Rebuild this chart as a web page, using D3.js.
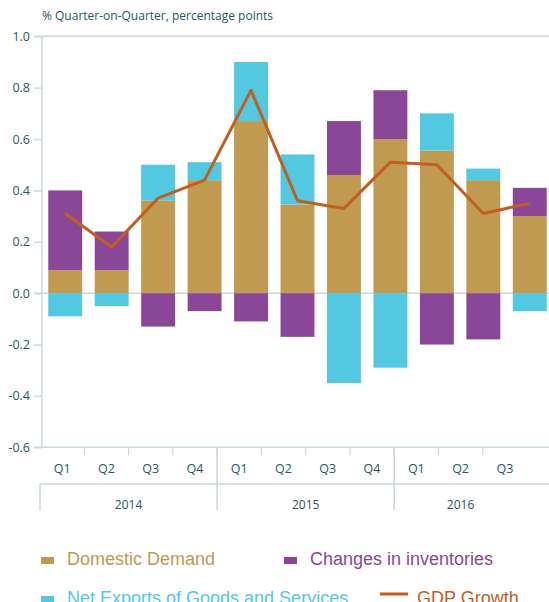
<!DOCTYPE html>
<html lang="en">
<head>
  <meta charset="UTF-8">
  <title>GDP contributions</title>
  <script src="https://cdn.jsdelivr.net/npm/d3@7"></script>
</head>
<body>
<style>
  * {
    padding: 0;
    margin: 0;
  }

  body {
    background: #fff;
  }

  #app {
    width: 549px;
    height: 602px;
    overflow: hidden;
  }

  #app svg {
    display: block;
  }
</style>

<div id="app"></div>

<script>
  // values
  var quarters = ['Q1', 'Q2', 'Q3', 'Q4', 'Q1', 'Q2', 'Q3', 'Q4', 'Q1', 'Q2', 'Q3'];
  var years = ['2014', '2015', '2016'];
  var yearQuarters = [4, 4, 3];
  var domesticDemand = [0.09, 0.09, 0.36, 0.44, 0.67, 0.345, 0.46, 0.60, 0.555, 0.44, 0.30];
  var inventories = [0.31, 0.15, -0.13, -0.07, -0.11, -0.17, 0.21, 0.19, -0.20, -0.18, 0.11];
  var netExports = [-0.09, -0.05, 0.14, 0.07, 0.23, 0.195, -0.35, -0.29, 0.145, 0.045, -0.07];
  var gdpGrowth = [0.31, 0.18, 0.37, 0.44, 0.79, 0.36, 0.33, 0.51, 0.50, 0.31, 0.35];
  var yTicks = [1.0, 0.8, 0.6, 0.4, 0.2, 0.0, -0.2, -0.4, -0.6];

  var seriesNames = ['Domestic Demand', 'Changes in inventories', 'Net Exports of Goods and Services'];
  var seriesColors = ['#c19a52', '#8a4797', '#53c8e1'];
  var lineColor = '#c05f1f';
  var textColor = '#275863';
  var axisColor = '#cad9de';

  function drawChart() {
    var width = 549, height = 602;
    var svg = d3.select('#app').append('svg')
      .attr('width', width).attr('height', height)
      .attr('viewBox', '0,0 ' + width + ',' + height);

    var idx = d3.range(quarters.length);

    var y = d3.scaleLinear().domain([-0.6, 1.0]).range([447.3, 36.3]);
    var x = d3.scaleBand().domain(idx).range([42, 553])
      .paddingInner(0.27).paddingOuter(0.135);
    // the category axis below has its own slightly narrower spacing
    var xAxisScale = d3.scaleBand().domain(idx).range([40, 527]);

    // title
    svg.append('text')
      .attr('x', 42).attr('y', 20)
      .attr('fill', textColor)
      .attr('font-family', '"Open Sans", sans-serif')
      .attr('font-size', '12px')
      .text('% Quarter-on-Quarter, percentage points');

    // y axis
    var yAxis = d3.axisLeft(y).tickValues(yTicks).tickSize(8).tickPadding(4)
      .tickFormat(d3.format('.1f'));
    var gy = svg.append('g').attr('transform', 'translate(42,0)').call(yAxis);
    gy.select('.domain').remove();
    gy.selectAll('.tick line').attr('stroke', axisColor).attr('stroke-width', 1.5);
    gy.selectAll('.tick text')
      .attr('fill', textColor)
      .attr('font-family', '"Open Sans", sans-serif')
      .attr('font-size', '12.5px')
      .text(function (d) { return d3.format('.1f')(d).replace('−', '-'); });

    svg.append('line')
      .attr('x1', 42).attr('x2', 42).attr('y1', y(1.0)).attr('y2', y(-0.6))
      .attr('stroke', axisColor).attr('stroke-width', 1.5);

    // full width lines at top, zero and bottom
    [1.0, 0.0, -0.6].forEach(function (v) {
      svg.append('line')
        .attr('x1', 34).attr('x2', width).attr('y1', y(v)).attr('y2', y(v))
        .attr('stroke', axisColor).attr('stroke-width', 1.5);
    });

    // stacked bars: positives upward, negatives downward
    var seriesValues = [domesticDemand, inventories, netExports];
    var bars = svg.append('g');
    idx.forEach(function (i) {
      var pos = 0, neg = 0;
      seriesValues.forEach(function (vals, s) {
        var v = vals[i], y0, y1;
        if (v >= 0) { y0 = pos; y1 = pos + v; pos = y1; }
        else { y0 = neg; y1 = neg + v; neg = y1; }
        bars.append('rect')
          .attr('x', x(i))
          .attr('width', x.bandwidth())
          .attr('y', y(Math.max(y0, y1)))
          .attr('height', Math.abs(y(y0) - y(y1)))
          .attr('fill', seriesColors[s]);
      });
    });

    // GDP line
    var lineGen = d3.line()
      .x(function (d, i) { return x(i) + x.bandwidth() / 2; })
      .y(function (d) { return y(d); });
    svg.append('path')
      .attr('d', lineGen(gdpGrowth))
      .attr('fill', 'none')
      .attr('stroke', lineColor)
      .attr('stroke-width', 3)
      .attr('stroke-linejoin', 'round');

    // category axis
    var axisTop = y(-0.6);
    var catG = svg.append('g');
    idx.slice(1).forEach(function (i) {
      catG.append('line')
        .attr('x1', xAxisScale(i)).attr('x2', xAxisScale(i))
        .attr('y1', axisTop).attr('y2', axisTop + 8)
        .attr('stroke', axisColor).attr('stroke-width', 1.2);
    });
    idx.forEach(function (i) {
      catG.append('text')
        .attr('x', xAxisScale(i) + xAxisScale.bandwidth() / 2)
        .attr('y', 473)
        .attr('text-anchor', 'middle')
        .attr('fill', textColor)
        .attr('font-family', '"Open Sans", sans-serif')
        .attr('font-size', '12.5px')
        .text(quarters[i]);
    });
    catG.append('line')
      .attr('x1', 40).attr('x2', width).attr('y1', 484).attr('y2', 484)
      .attr('stroke', axisColor).attr('stroke-width', 1.5);

    var start = 0;
    years.forEach(function (yr, k) {
      var x0 = xAxisScale(start);
      var last = start + yearQuarters[k] - 1;
      var x1 = xAxisScale(last) + xAxisScale.step();
      catG.append('line')
        .attr('x1', x0).attr('x2', x0)
        .attr('y1', k === 0 ? 484 : axisTop).attr('y2', 510)
        .attr('stroke', axisColor).attr('stroke-width', 1.5);
      catG.append('text')
        .attr('x', (x0 + x1) / 2)
        .attr('y', 509)
        .attr('text-anchor', 'middle')
        .attr('fill', textColor)
        .attr('font-family', '"Open Sans", sans-serif')
        .attr('font-size', '12px')
        .text(yr);
      start = last + 1;
    });

    // legend (second row is cut by the bottom edge, as in the source)
    var legend = svg.append('g')
      .attr('font-family', '"Liberation Sans", Arial, sans-serif')
      .attr('font-size', '18px');
    var items = [
      { name: seriesNames[0], color: seriesColors[0], x: 41, y: 565, type: 'box' },
      { name: seriesNames[1], color: seriesColors[1], x: 284, y: 565, type: 'box' },
      { name: seriesNames[2], color: seriesColors[2], x: 41, y: 604, type: 'box' },
      { name: 'GDP Growth', color: lineColor, x: 380, y: 604, type: 'line' }
    ];
    items.forEach(function (it) {
      if (it.type === 'box') {
        legend.append('rect')
          .attr('x', it.x).attr('y', it.y - 8)
          .attr('width', 13).attr('height', 7)
          .attr('fill', it.color);
        legend.append('text')
          .attr('x', it.x + 26).attr('y', it.y)
          .attr('fill', it.color)
          .text(it.name);
      } else {
        legend.append('line')
          .attr('x1', it.x).attr('x2', it.x + 28)
          .attr('y1', it.y - 10).attr('y2', it.y - 10)
          .attr('stroke', it.color).attr('stroke-width', 3);
        legend.append('text')
          .attr('x', it.x + 37).attr('y', it.y)
          .attr('fill', it.color)
          .text(it.name);
      }
    });
  }

  drawChart();
</script>

</body>
</html>
